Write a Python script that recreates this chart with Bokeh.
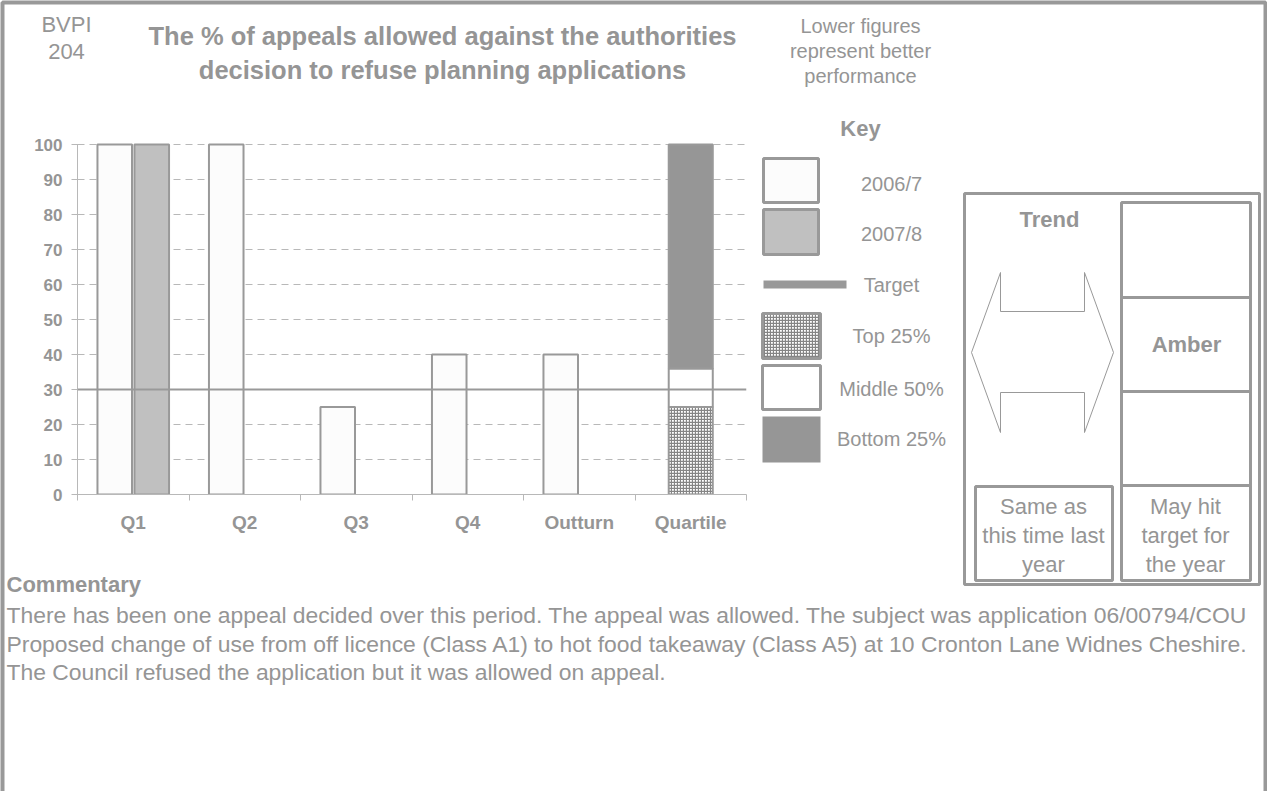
from bokeh.plotting import figure
from bokeh.models import Range1d, LinearAxis, FixedTicker, Span, Grid
from bokeh.core.properties import value
from bokeh.embed import file_html
from bokeh.resources import INLINE

# ---------------- data ----------------
categories = ["Q1", "Q2", "Q3", "Q4", "Outturn", "Quartile"]
series_2006 = [100, 100, 25, 40, 40]      # 2006/7 for Q1..Outturn
series_2007 = [100]                         # 2007/8 for Q1 only
quartile_bounds = [0, 25, 36, 100]          # Top 25% / Middle 50% / Bottom 25%
target_value = 30
y_ticks = [0, 10, 20, 30, 40, 50, 60, 70, 80, 90, 100]
key_labels = ["2006/7", "2007/8", "Target", "Top 25%", "Middle 50%", "Bottom 25%"]
commentary = [
    "There has been one appeal decided over this period. The appeal was allowed. The subject was application 06/00794/COU",
    "Proposed change of use from off licence (Class A1) to hot food takeaway (Class A5) at 10 Cronton Lane Widnes Cheshire.",
    "The Council refused the application but it was allowed on appeal.",
]

# ---------------- style ----------------
FONTNAME = "Liberation Sans"
FONT = value(FONTNAME)
TXT = "#959595"
EDGE = "#999999"
AXC = "#b8b8b8"
W, H = 1267, 791
FL, FR = 77, 746
FB, FT = 494, 141
PXU = 3.5
y_end = (FB - FT) / PXU

p = figure(width=W, height=H, output_backend="svg", toolbar_location=None,
           x_range=Range1d(0, len(categories)), y_range=Range1d(0, y_end),
           x_axis_type=None, y_axis_type=None,
           min_border_left=FL, min_border_right=W - FR,
           min_border_top=FT, min_border_bottom=H - FB)
p.outline_line_color = None
p.background_fill_color = "white"
p.border_fill_color = "white"

yax = LinearAxis(ticker=FixedTicker(ticks=y_ticks), bounds=(0, 100),
                 axis_line_color=AXC, major_tick_line_color=AXC,
                 major_tick_in=5, major_tick_out=6, minor_tick_line_color=None,
                 major_label_text_font=FONTNAME, major_label_text_font_style="bold",
                 major_label_text_font_size="17px", major_label_text_color=TXT,
                 major_label_standoff=9)
p.add_layout(yax, "left")
p.add_layout(Grid(dimension=1, ticker=FixedTicker(ticks=y_ticks[1:]),
                  grid_line_color=AXC, grid_line_dash="7 5"))

centers = [i + 0.5 for i in range(len(categories))]
xax = LinearAxis(ticker=FixedTicker(ticks=centers, minor_ticks=list(range(len(categories) + 1))),
                 major_label_overrides={c: lab for c, lab in zip(centers, categories)},
                 axis_line_color=AXC, major_tick_line_color=None,
                 major_tick_in=0, major_tick_out=0,
                 minor_tick_line_color=AXC, minor_tick_in=0, minor_tick_out=6,
                 major_label_text_font=FONTNAME, major_label_text_font_style="bold",
                 major_label_text_font_size="19px", major_label_text_color=TXT,
                 major_label_standoff=11)
p.add_layout(xax, "below")

# bars
p.vbar(x=[c - 0.166 for c in centers[:len(series_2006)]], top=series_2006, bottom=0,
       width=0.31, fill_color="#fcfcfc", line_color=EDGE, line_width=2)
p.vbar(x=[c + 0.166 for c in centers[:len(series_2007)]], top=series_2007, bottom=0,
       width=0.31, fill_color="#c0c0c0", line_color=EDGE, line_width=2)
qx = centers[-1]
HATCH = dict(hatch_pattern="cross", hatch_scale=3, hatch_weight=1.3, hatch_color="#858585")
p.vbar(x=[qx], bottom=[quartile_bounds[0]], top=[quartile_bounds[1]], width=0.395,
       fill_color="white", line_color=EDGE, line_width=2, **HATCH)
p.vbar(x=[qx], bottom=[quartile_bounds[1]], top=[quartile_bounds[2]], width=0.395,
       fill_color="white", line_color=EDGE, line_width=2)
p.vbar(x=[qx], bottom=[quartile_bounds[2]], top=[quartile_bounds[3]], width=0.395,
       fill_color="#969696", line_color=EDGE, line_width=2)
p.add_layout(Span(location=target_value, dimension="width", line_color=EDGE, line_width=2))

# ---------------- decorations (pixel space) ----------------
p.extra_x_ranges = {"px": Range1d(FL, FR)}
p.extra_y_ranges = {"py": Range1d(FB, FT)}
KW = dict(x_range_name="px", y_range_name="py", level="overlay")


def box(x0, y0, x1, y1, fill="white", line=EDGE, lw=3, **extra):
    p.quad(left=[x0], right=[x1], top=[y0], bottom=[y1],
           fill_color=fill, line_color=line, line_width=lw, **extra, **KW)


def txt(x, y, s, size, bold=False, align="center"):
    p.text(x=[x], y=[y], text=[s], text_font=FONT, text_font_size=f"{size}px",
           text_font_style="bold" if bold else "normal", text_color=TXT,
           text_align=align, text_baseline="middle", **KW)


# outer frame (left, top, right)
p.line(x=[2, 2, W - 2, W - 2], y=[H, 2, 2, H], line_color=EDGE, line_width=4, **KW)

# header texts
txt(66, 24, "BVPI", 22)
txt(66, 51, "204", 22)
txt(442, 35, "The % of appeals allowed against the authorities", 25.5, bold=True)
txt(442, 69, "decision to refuse planning applications", 25.5, bold=True)
txt(860, 25, "Lower figures", 20)
txt(860, 50, "represent better", 20)
txt(860, 75, "performance", 20)

# key
txt(860, 128, "Key", 22, bold=True)
box(763, 158, 818, 202, fill="#fcfcfc")
box(763, 209, 818, 254, fill="#c0c0c0")
p.line(x=[763, 846], y=[284, 284], line_color=EDGE, line_width=8, **KW)
box(762, 313, 820, 358, fill="white", **HATCH)
box(762, 365, 820, 409, fill="white")
box(762, 416, 820, 462, fill="#969696", line=None, lw=0)
for lab, yy in zip(key_labels, [183, 233, 284, 335, 388, 438]):
    txt(891, yy, lab, 20)

# trend panel
box(964, 193, 1259, 584, fill="white")
box(1121, 202, 1250, 297)
box(1121, 297, 1250, 391)
box(1121, 391, 1250, 485)
box(1121, 485, 1250, 580)
box(975, 486, 1112, 580)
ax = [971, 1000, 1000, 1084, 1084, 1113, 1084, 1084, 1000, 1000]
ay = [352, 272, 311, 311, 272, 352, 432, 392, 392, 432]
p.patch(x=ax, y=ay, fill_color="white", line_color=EDGE, line_width=1, **KW)
txt(1049, 219, "Trend", 22, bold=True)
txt(1186, 344, "Amber", 22, bold=True)
for s, yy in zip(["Same as", "this time last", "year"], [506, 535, 564]):
    txt(1043, yy, s, 22)
for s, yy in zip(["May hit", "target for", "the year"], [506, 535, 564]):
    txt(1185, yy, s, 22)

# commentary
txt(6, 584, "Commentary", 22, bold=True, align="left")
for s, yy in zip(commentary, [614, 643, 671]):
    txt(6, yy, s, 22.9, align="left")

open("out.html", "w").write(file_html(p, INLINE))
